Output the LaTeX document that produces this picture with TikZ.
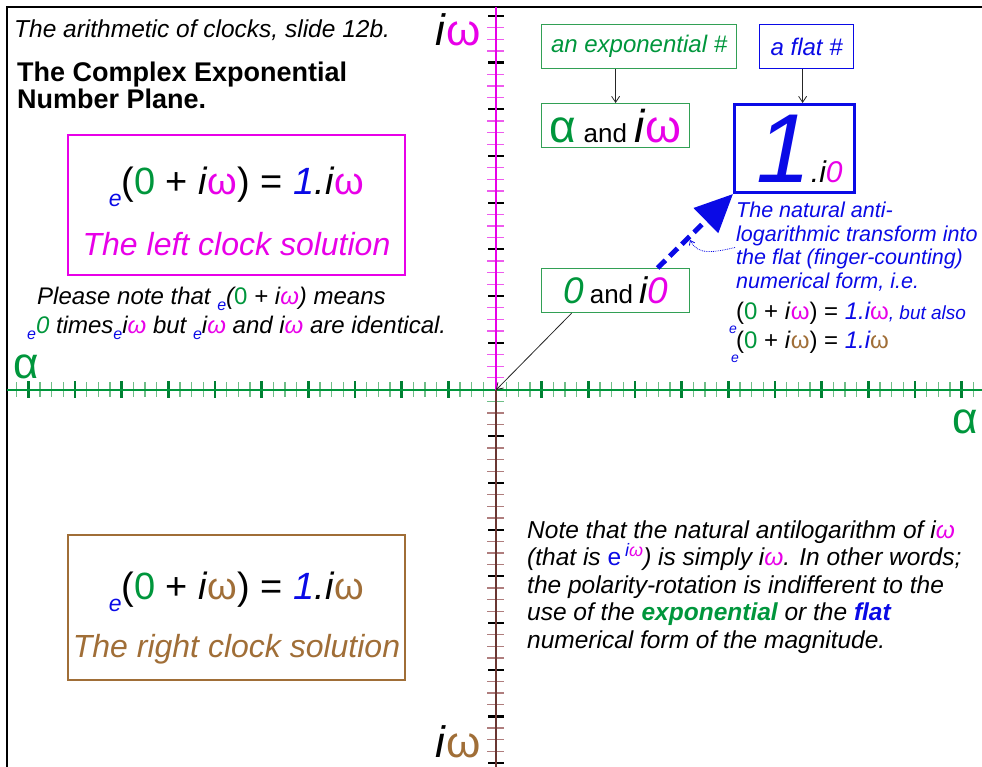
\documentclass[tikz,border=0pt]{standalone}
\usepackage{fontspec}
\setmainfont{Liberation Sans}
\usetikzlibrary{arrows.meta,calc}
\definecolor{mag}{RGB}{232,0,232}
\definecolor{grn}{RGB}{0,150,60}
\definecolor{blu}{RGB}{10,10,230}
\definecolor{brn}{RGB}{160,110,55}
\definecolor{axbrn}{RGB}{105,55,50}
\definecolor{tickbrn}{RGB}{175,125,125}
\definecolor{tickmag}{RGB}{238,90,238}
\definecolor{tickgrn}{RGB}{110,190,135}
\definecolor{boxgrn}{RGB}{50,160,85}
\newcommand{\fsz}[2]{\fontsize{#1}{#2}\selectfont}
\newcommand{\sube}[2]{\raisebox{#2}{\fsz{#1}{#1}\color{blu}\itshape e}}
\newcommand{\clockeq}[1]{\sube{23}{-12pt}(\textcolor{grn}{0} + \textit{i}\textcolor{#1}{ω}) = \textcolor{blu}{\textit{1}}\textit{.i}\textcolor{#1}{ω}}
\tikzset{
  hmaj/.style={draw=grn!85!black, line width=2.6pt},
  hmin/.style={draw=tickgrn, line width=1.2pt},
  vmaj/.style={draw=black, line width=2.2pt},
  vminu/.style={draw=tickmag, line width=1.3pt},
  vmind/.style={draw=tickbrn, line width=1.3pt},
  txt/.style={inner sep=0pt, anchor=base west},
  gbox/.style={draw=boxgrn, line width=1.2pt, inner sep=0pt, anchor=north west},
  bbox/.style={draw=blu, line width=1.2pt, inner sep=0pt, anchor=north west},
  thinarrow/.style={draw=black!85, line width=0.8pt, -{Straight Barb[length=6pt,width=8pt]}},
}
\begin{document}
\begin{tikzpicture}[x=1pt,y=-1pt]
\useasboundingbox (0,0) rectangle (982,767);
% frame
\draw[line width=1.5pt] (7,767) -- (7,7) -- (982,7);
\coordinate (O) at (496,390);
% horizontal axis
\foreach \k in {1,...,41}{
  \pgfmathtruncatemacro\m{mod(\k,4)}
  \pgfmathsetmacro\xl{495-11.667*\k}
  \pgfmathsetmacro\xr{495+11.667*\k}
  \ifnum\m=0
    \draw[hmaj] (\xl,381)--(\xl,398) (\xr,381)--(\xr,398);
  \else
    \draw[hmin] (\xl,382)--(\xl,397) (\xr,382)--(\xr,397);
  \fi
}
\draw[grn, line width=2.2pt] (7,390) -- (982,390);
% vertical axis
\foreach \k in {2,...,32}{
  \pgfmathtruncatemacro\m{mod(\k,4)}
  \pgfmathsetmacro\yu{389.5-11.675*\k}
  \pgfmathsetmacro\yd{389.5+11.675*\k}
  \ifnum\m=0
    \draw[vmaj] (488,\yu)--(504,\yu) (488,\yd)--(504,\yd);
  \else
    \draw[vminu] (487,\yu)--(504,\yu);
    \draw[vmind] (487,\yd)--(504,\yd);
  \fi
}
\draw[vminu] (487,377.8)--(504,377.8);
\draw[hmin] (487,401.2)--(504,401.2);
\draw[mag, line width=2.2pt] (496,7) -- (O);
\draw[axbrn, line width=2.2pt] (O) -- (496,767);
% axis labels
\node[txt, anchor=base east] (iwtop) at (481,46) {\fsz{44}{44}\textit{i}\textcolor{mag}{ω}};
\node[txt, anchor=base east] (iwbot) at (481,757) {\fsz{44}{44}\textit{i}\textcolor{brn}{ω}};
\node[txt] (alphaL) at (13,378) {\fsz{44}{44}\color{grn}α};
\node[txt, anchor=base east] (alphaR) at (978,433) {\fsz{44}{44}\color{grn}α};
% titles
\node[txt] (title) at (14,38) {\fsz{24.5}{28}\itshape The arithmetic of clocks, slide 12b.};
\node[txt] (head1) at (17,82) {\fsz{27}{30}\bfseries The Complex Exponential};
\node[txt] (head2) at (17,109) {\fsz{27}{30}\bfseries Number Plane.};
% left clock box
\node[draw=mag, line width=2.8pt, minimum width=337pt, minimum height=140pt, inner sep=0pt] (leftbox) at (236.5,205) {};
\node[txt, anchor=base] (lefteq) at (236.5,195) {\fsz{38}{40}\clockeq{mag}};
\node[txt, anchor=base] (leftsol) at (236.5,255) {\fsz{32}{36}\itshape\color{mag}The left clock solution};
% please note
\node[txt] (pn1) at (37,304) {\fsz{24}{28}\itshape Please note that \sube{16}{-6pt}(\textcolor{grn}{\upshape 0} + i\textcolor{mag}{ω}) means};
\node[txt] (pn2) at (27,333) {\fsz{24}{28}\itshape\sube{16}{-6pt}\textcolor{grn}{0} times\sube{16}{-6pt}i\textcolor{mag}{ω} but \sube{16}{-6pt}i\textcolor{mag}{ω} and i\textcolor{mag}{ω} are identical.};
% right clock box
\node[draw=brn, line width=2.8pt, minimum width=337pt, minimum height=145pt, inner sep=0pt] (rightbox) at (236.5,607.5) {};
\node[txt, anchor=base] (righteq) at (236.5,599) {\fsz{38}{40}\clockeq{brn}};
\node[txt, anchor=base] (rightsol) at (236.5,657) {\fsz{32}{36}\itshape\color{brn}The right clock solution};
% upper right boxes
\node[gbox, minimum width=195pt, minimum height=44pt] (expbox) at (541,24) {\fsz{24}{28}\itshape\color{grn}an exponential \#};
\node[bbox, minimum width=94pt, minimum height=44pt] (flatbox) at (759,24) {\fsz{24}{28}\itshape\color{blu}a flat \#};
\node[gbox, minimum width=148pt, minimum height=44pt] (alphabox) at (541,103) {\fsz{46}{46}\textcolor{grn}{α}\,{\fsz{26}{26}and}\,\textit{i}\textcolor{mag}{ω}};
\node[bbox, line width=3pt, minimum width=120pt, minimum height=88pt] (onebox) at (733,103) {\hspace*{10pt}\fsz{98}{98}\itshape\textcolor{blu}{1}\fsz{30}{30}.i\textcolor{mag}{0}};
\node[gbox, minimum width=148pt, minimum height=44pt] (zerobox) at (541,268) {\fsz{37}{37}\textit{\textcolor{grn}{0}}\,{\fsz{26}{26}and}\,\textit{i\textcolor{mag}{0}}};
\draw[thinarrow] (expbox.south -| alphabox.north) -- (alphabox.north);
\draw[thinarrow] ([xshift=-4pt]flatbox.south) -- ([xshift=-4pt]flatbox.south |- onebox.north);
\draw[thinarrow] ([xshift=-44pt]zerobox.south) -- (O);
% thick dashed blue arrow
\draw[blu, line width=5pt, dash pattern=on 11pt off 6pt, -{Triangle[length=38pt,width=34pt]}] ([xshift=42pt]zerobox.north) -- (onebox.south west);
% blue explanation
\node[txt] (bt1) at (736,217.5) {\fsz{21.5}{24}\itshape\color{blu}The natural anti-};
\node[txt] (bt2) at (736,241.5) {\fsz{21.5}{24}\itshape\color{blu}logarithmic transform into};
\node[txt] (bt3) at (736,265) {\fsz{21.5}{24}\itshape\color{blu}the flat (finger-counting)};
\node[txt] (bt4) at (736,288.5) {\fsz{21.5}{24}\itshape\color{blu}numerical form, i.e.};
\coordinate (dotstart) at ([xshift=-1pt,yshift=-6pt]bt2.base west);
\draw[blu, densely dotted, line width=0.8pt, -{Straight Barb[length=4pt,width=6pt]}] (dotstart) .. controls (715,252) and (698,256) .. (690,240);
\node[txt] (f1) at (736,319) {\fsz{24}{26}(\textcolor{grn}{0} + \textit{i}\textcolor{mag}{ω}) = \textcolor{blu}{\itshape 1.i}\textcolor{mag}{ω}\fsz{19}{20}\itshape\color{blu} , but also};
\node[txt] (e1) at (729,333) {\fsz{14}{14}\itshape\color{blu}e};
\node[txt] (f2) at (736,348) {\fsz{24}{26}(\textcolor{grn}{0} + \textit{i}\textcolor{brn}{ω}) = \textcolor{blu}{\itshape 1.i}\textcolor{brn}{ω}};
\node[txt] (e2) at (731,362) {\fsz{14}{14}\itshape\color{blu}e};
% lower right note
\node[txt] (n1) at (527,538) {\fsz{24.5}{28}\itshape Note that the natural antilogarithm of i\textcolor{mag}{ω}};
\node[txt] (n2) at (527,565.5) {\fsz{24.5}{28}\itshape (that is \textcolor{blu}{\upshape e}\,\raisebox{9pt}{\fsz{18}{18}\textcolor{blu}{i}\textcolor{mag}{ω}}) is simply i\textcolor{mag}{ω}. In other words;};
\node[txt] (n3) at (527,593) {\fsz{24.5}{28}\itshape the polarity-rotation is indifferent to the};
\node[txt] (n4) at (527,620.5) {\fsz{24.5}{28}\itshape use of the \textcolor{grn}{\bfseries exponential} or the \textcolor{blu}{\bfseries flat}};
\node[txt] (n5) at (527,648) {\fsz{24.5}{28}\itshape numerical form of the magnitude.};
\end{tikzpicture}
\end{document}
